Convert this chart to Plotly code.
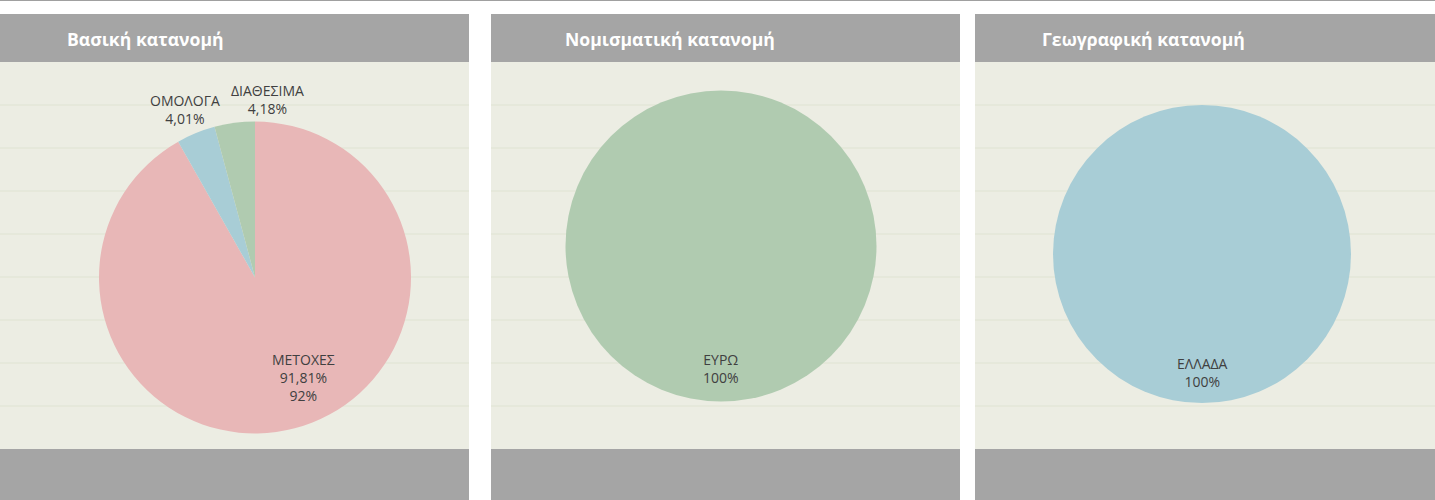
import plotly.graph_objects as go

W, H = 1435, 500

# ---- data ----
titles = ["Βασική κατανομή", "Νομισματική κατανομή", "Γεωγραφική κατανομή"]
basic_labels = ["ΜΕΤΟΧΕΣ", "ΟΜΟΛΟΓΑ", "ΔΙΑΘΕΣΙΜΑ"]
basic_values = [91.81, 4.01, 4.18]
currency_labels = ["ΕΥΡΩ"]
currency_values = [100]
geo_labels = ["ΕΛΛΑΔΑ"]
geo_values = [100]

# ---- style ----
PINK, BLUE, GREEN = "#e8b7b7", "#a8cdd6", "#b0cbb0"
HEADER = "#a5a5a5"
BODY = "#ecede3"
GRID = "#dfe3d2"
TXT = "#404040"
FONT = "Open Sans"

panels = [(0, 469), (491, 960), (975, 1435)]
title_x = [65, 563, 1040]
head_top, head_bot, foot_top = 14, 62, 449

# pie geometry in px: centre x, centre y, radius
pies = [(255, 277.5, 156), (721, 246, 155.5), (1202, 254, 149)]
# label offsets (fraction of radius) for each slice
label_pos = [
    [(0.31, 0.64), (-0.45, -1.08), (0.077, -1.144)],
    [(0.0, 0.79)],
    [(0.0, 0.795)],
]


def px(x):
    return x / W


def py(y):
    return 1 - y / H


def fmt(v):
    s = f"{v:.2f}".rstrip("0").rstrip(".")
    return s.replace(".", ",") + "%"


fig = go.Figure()
shapes = []
annotations = []

# top thin line
shapes.append(dict(type="line", xref="paper", yref="paper", x0=0, x1=1,
                   y0=py(0.5), y1=py(0.5), line=dict(color="#a0a0a0", width=1), layer="below"))

for i, (x0, x1) in enumerate(panels):
    shapes.append(dict(type="rect", xref="paper", yref="paper", x0=px(x0), x1=px(x1),
                       y0=py(head_bot), y1=py(head_top), fillcolor=HEADER, line=dict(width=0), layer="below"))
    shapes.append(dict(type="rect", xref="paper", yref="paper", x0=px(x0), x1=px(x1),
                       y0=py(foot_top), y1=py(head_bot), fillcolor=BODY, line=dict(width=0), layer="below"))
    shapes.append(dict(type="rect", xref="paper", yref="paper", x0=px(x0), x1=px(x1),
                       y0=py(H), y1=py(foot_top), fillcolor=HEADER, line=dict(width=0), layer="below"))
    for k in range(1, 9):
        gy = head_bot + k * (foot_top - head_bot) / 9
        shapes.append(dict(type="line", xref="paper", yref="paper", x0=px(x0), x1=px(x1),
                           y0=py(gy), y1=py(gy), line=dict(color=GRID, width=1), layer="below"))
    annotations.append(dict(text=f"<b>{titles[i]}</b>", xref="paper", yref="paper",
                            x=px(title_x[i]), y=py(39.5), xanchor="left", yanchor="middle",
                            showarrow=False, font=dict(family=FONT, size=17.6, color="#ffffff")))

series = [
    (basic_labels, basic_values, [PINK, BLUE, GREEN], True),
    (currency_labels, currency_values, [GREEN], False),
    (geo_labels, geo_values, [BLUE], False),
]

for i, (labels, values, colors, two_pct) in enumerate(series):
    cx, cy, r = pies[i]
    fig.add_trace(go.Pie(
        labels=labels, values=values, sort=False, direction="clockwise", rotation=0,
        marker=dict(colors=colors, line=dict(width=0)),
        textinfo="none", hoverinfo="skip", showlegend=False,
        domain=dict(x=[px(cx - r), px(cx + r)], y=[py(cy + r), py(cy - r)]),
    ))
    total = sum(values)
    for j, (lab, val) in enumerate(zip(labels, values)):
        dx, dy = label_pos[i][j]
        txt = f"{lab}<br>{fmt(val)}"
        if two_pct and j == 0:
            txt += f"<br>{round(val / total * 100)}%"
        annotations.append(dict(text=txt, xref="paper", yref="paper",
                                x=px(cx + dx * r), y=py(cy + dy * r),
                                xanchor="center", yanchor="middle", showarrow=False,
                                font=dict(family=FONT, size=14, color=TXT)))

fig.update_layout(
    width=W, height=H, margin=dict(l=0, r=0, t=0, b=0),
    paper_bgcolor="#ffffff", plot_bgcolor="#ffffff",
    shapes=shapes, annotations=annotations,
)

fig.write_html("out.html", config={"displayModeBar": False},
               post_script="document.body.style.margin='0';document.body.style.overflow='hidden';")
